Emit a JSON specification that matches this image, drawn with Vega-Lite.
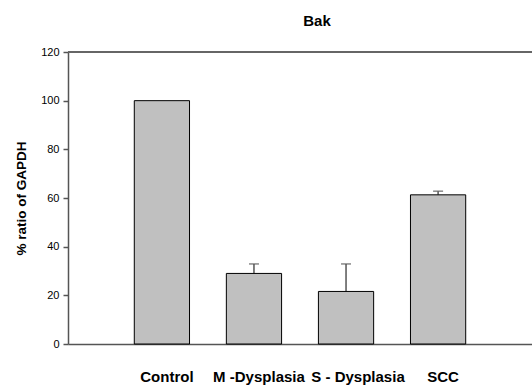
{
  "$schema": "https://vega.github.io/schema/vega-lite/v6.json",
  "autosize": "none",
  "width": 464,
  "height": 292,
  "padding": {"left": 68, "top": 52, "right": 0, "bottom": 41},
  "background": "white",
  "config": {
    "view": {"stroke": null},
    "font": "Liberation Sans"
  },
  "title": {
    "text": "Bak",
    "font": "Liberation Sans",
    "fontSize": 15,
    "fontWeight": "bold",
    "color": "black",
    "anchor": "middle",
    "dx": 17,
    "offset": 17
  },
  "data": {
    "values": [
      {"group": "Control", "value": 100, "upper": 100},
      {"group": "M -Dysplasia", "value": 29, "upper": 32.9},
      {"group": "S - Dysplasia", "value": 21.6, "upper": 32.9},
      {"group": "SCC", "value": 61.3, "upper": 62.8}
    ]
  },
  "encoding": {
    "x": {
      "field": "group",
      "type": "nominal",
      "sort": null,
      "scale": {"paddingInner": 0.4, "paddingOuter": 0.72},
      "axis": {
        "title": null,
        "labelAngle": 0,
        "ticks": false,
        "labelPadding": 25,
        "labelFont": "Liberation Sans",
        "labelFontSize": 15,
        "labelFontWeight": "bold",
        "labelColor": "black",
        "labelOffset": {"condition": {"test": "datum.value === 'S - Dysplasia'", "value": 12}, "value": 5},
        "domainColor": "#555555",
        "domainWidth": 1.5,
        "grid": false
      }
    }
  },
  "layer": [
    {
      "mark": {"type": "rule", "color": "#666666", "strokeWidth": 1.5},
      "encoding": {"y": {"datum": 120, "type": "quantitative"}, "x": null}
    },
    {
      "mark": {"type": "rule", "color": "#555555", "strokeWidth": 1.5},
      "encoding": {
        "y": {"field": "value", "type": "quantitative"},
        "y2": {"field": "upper"}
      }
    },
    {
      "mark": {"type": "tick", "orient": "horizontal", "size": 10, "thickness": 1.5, "color": "#555555"},
      "transform": [{"filter": "datum.upper > datum.value"}],
      "encoding": {
        "y": {"field": "upper", "type": "quantitative"}
      }
    },
    {
      "mark": {"type": "bar", "fill": "#c0c0c0", "stroke": "black", "strokeWidth": 1},
      "encoding": {
        "y": {
          "field": "value",
          "type": "quantitative",
          "scale": {"domain": [0, 120]},
          "axis": {
            "title": "% ratio of GAPDH",
            "titleFont": "Liberation Sans",
            "titleFontSize": 13.5,
            "titleFontWeight": "bold",
            "titleColor": "black",
            "titlePadding": 12,
            "values": [0, 20, 40, 60, 80, 100, 120],
            "labelFont": "Liberation Sans",
            "labelFontSize": 11,
            "labelColor": "black",
            "labelPadding": 4,
            "tickSize": 5,
            "tickColor": "#555555",
            "tickWidth": 1.5,
            "domainColor": "#555555",
            "domainWidth": 1.5,
            "grid": false
          }
        }
      }
    }
  ]
}
